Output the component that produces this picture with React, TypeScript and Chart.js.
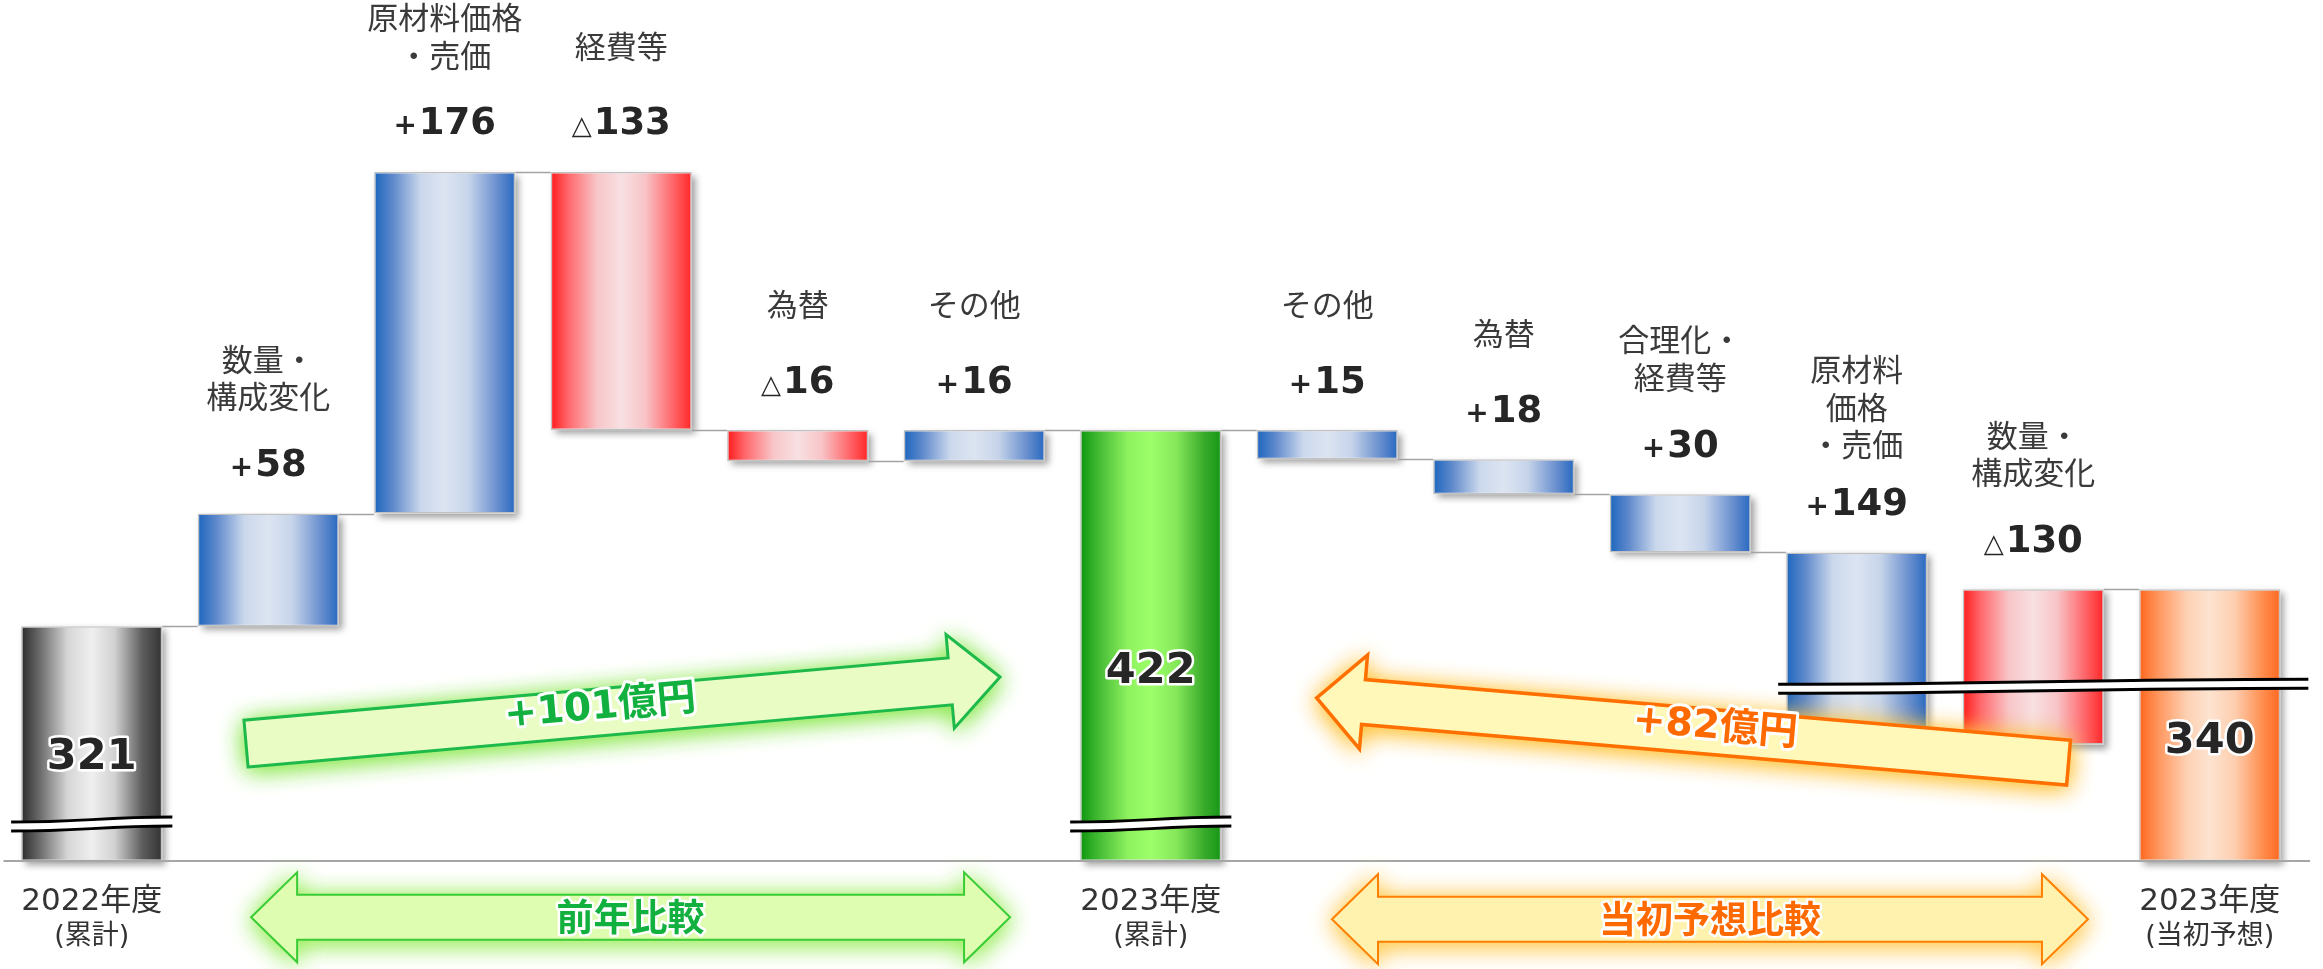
import React, { useEffect, useRef } from 'react';
import { Chart, registerables } from 'chart.js';

Chart.register(...registerables);

const CANVAS_W = 2323;
const CANVAS_H = 969;

// 営業利益の増減要因（億円）
const startTotal = 321; // 2022年度 累計
const actualTotal = 422; // 2023年度 累計
const forecastTotal = 340; // 2023年度 当初予想

const yoyItems = [['数量・', '構成変化'], ['原材料価格', '・売価'], ['経費等'], ['為替'], ['その他']];
const yoyDeltas = [58, 176, -133, -16, 16];

const forecastItems = [['その他'], ['為替'], ['合理化・', '経費等'], ['原材料', '価格', '・売価'], ['数量・', '構成変化']];
const forecastDeltas = [15, 18, 30, 149, -130];

const totalCaptions = [['2022年度', '(累計)'], ['2023年度', '(累計)'], ['2023年度', '(当初予想)']];
const comparisonCaptions = ['前年比較', '当初予想比較'];

// Broken value axis: bars start at AXIS_MIN; deltas that reach below the
// right-hand break are cut at CUT_FLOOR.
const AXIS_MIN = 200;
const AXIS_MAX = 640;
const LEFT_BREAK = 219;
const RIGHT_BREAK = 290;
const CUT_FLOOR = 260;

// Annotation anchors in chart units: [category position, value]
const yoyArrow = { tail: [0.874, 260.5], tip: [5.146, 294.8] };
const forecastArrow = { tail: [11.2, 250.7], tip: [6.94, 284] };
const yoySpan = { from: 0.903, to: 5.203, at: 171 };
const forecastSpan = { from: 7.027, to: 11.31, at: 170 };

const JP = "'Noto Sans CJK JP', sans-serif";
const NUM = "'DejaVu Sans', 'Noto Sans CJK JP', sans-serif";

type Kind = 'gray' | 'green' | 'orange' | 'up' | 'down';
interface Step {
  name: string;
  lines: string[];
  from: number;
  to: number;
  kind: Kind;
  delta?: number;
  total?: number;
  caption?: string[];
}

function buildSteps(): Step[] {
  const steps: Step[] = [];
  steps.push({ name: totalCaptions[0].join(''), lines: [], from: AXIS_MIN, to: startTotal, kind: 'gray', total: startTotal, caption: totalCaptions[0] });
  let level = startTotal;
  yoyDeltas.forEach((d, i) => {
    const next = level + d;
    steps.push({ name: yoyItems[i].join(''), lines: yoyItems[i], from: level, to: next, kind: d >= 0 ? 'up' : 'down', delta: d });
    level = next;
  });
  steps.push({ name: totalCaptions[1].join(''), lines: [], from: AXIS_MIN, to: actualTotal, kind: 'green', total: actualTotal, caption: totalCaptions[1] });
  // forecast bridge is walked back from the actual result
  level = actualTotal;
  forecastDeltas.forEach((d, i) => {
    const next = level - d;
    steps.push({ name: forecastItems[i].join(''), lines: forecastItems[i], from: level, to: next, kind: d >= 0 ? 'up' : 'down', delta: d });
    level = next;
  });
  steps.push({ name: totalCaptions[2].join(''), lines: [], from: AXIS_MIN, to: forecastTotal, kind: 'orange', total: forecastTotal, caption: totalCaptions[2] });
  return steps;
}

const steps = buildSteps();
const barData = steps.map((s) =>
  s.total !== undefined
    ? [AXIS_MIN, s.total]
    : [Math.max(Math.min(s.from, s.to), CUT_FLOOR), Math.max(s.from, s.to)]
);

const GRADIENTS: Record<Kind, [number, string][]> = {
  gray: [[0, '#2c2c2c'], [0.13, '#6a6a6a'], [0.33, '#d6d6d6'], [0.5, '#efefef'], [0.66, '#d2d2d2'], [0.86, '#5c5c5c'], [1, '#333333']],
  green: [[0, '#0f960f'], [0.14, '#47bd36'], [0.34, '#8ef25f'], [0.5, '#9cff6a'], [0.68, '#86e85a'], [0.88, '#38aa2a'], [1, '#179617']],
  orange: [[0, '#ff661c'], [0.14, '#ff9760'], [0.34, '#fdd1b3'], [0.5, '#fde3d0'], [0.68, '#fdcdae'], [0.88, '#ff8c4c'], [1, '#ff6820']],
  up: [[0, '#1c66be'], [0.13, '#5d88cb'], [0.33, '#cbd8ec'], [0.5, '#dce4f1'], [0.67, '#c6d4ea'], [0.87, '#6a90cf'], [1, '#2868bf']],
  down: [[0, '#ff1a1a'], [0.13, '#ff6a6e'], [0.33, '#f8c6c9'], [0.5, '#f8e0e2'], [0.67, '#f8c4c7'], [0.87, '#ff6468'], [1, '#ff2626']],
};

function haloText(ctx: CanvasRenderingContext2D, text: string, x: number, y: number, font: string, color: string, halo: number) {
  ctx.font = font;
  ctx.lineJoin = 'round';
  ctx.strokeStyle = '#ffffff';
  ctx.lineWidth = halo;
  ctx.strokeText(text, x, y);
  ctx.fillStyle = color;
  ctx.fillText(text, x, y);
}

function signedLabel(ctx: CanvasRenderingContext2D, d: number, cx: number, cy: number) {
  const sign = d >= 0 ? '+' : '△';
  const digits = String(Math.abs(d));
  const signFont = d >= 0 ? `bold 28px ${NUM}` : `26px ${NUM}`;
  const digitFont = `bold 37px ${NUM}`;
  ctx.font = signFont;
  const sw = ctx.measureText(sign).width;
  ctx.font = digitFont;
  const dw = ctx.measureText(digits).width;
  const gap = 2;
  const x0 = cx - (sw + gap + dw) / 2;
  const baseY = cy + 13.5;
  ctx.textAlign = 'left';
  ctx.textBaseline = 'alphabetic';
  ctx.fillStyle = '#262626';
  ctx.font = signFont;
  ctx.fillText(sign, x0, baseY);
  ctx.font = digitFont;
  ctx.fillText(digits, x0 + sw + gap, baseY);
}

function drawBreak(ctx: CanvasRenderingContext2D, x0: number, x1: number, yMid: number, amp: number) {
  const half = 4.5;
  const w = x1 - x0;
  const upper = () => {
    ctx.moveTo(x0, yMid - half + amp);
    ctx.bezierCurveTo(x0 + w * 0.45, yMid - half + amp, x0 + w * 0.55, yMid - half - amp, x1, yMid - half - amp);
  };
  const lower = () => {
    ctx.moveTo(x0, yMid + half + amp);
    ctx.bezierCurveTo(x0 + w * 0.45, yMid + half + amp, x0 + w * 0.55, yMid + half - amp, x1, yMid + half - amp);
  };
  ctx.save();
  ctx.beginPath();
  ctx.moveTo(x0, yMid - half + amp);
  ctx.bezierCurveTo(x0 + w * 0.45, yMid - half + amp, x0 + w * 0.55, yMid - half - amp, x1, yMid - half - amp);
  ctx.lineTo(x1, yMid + half - amp);
  ctx.bezierCurveTo(x0 + w * 0.55, yMid + half - amp, x0 + w * 0.45, yMid + half + amp, x0, yMid + half + amp);
  ctx.closePath();
  ctx.fillStyle = '#ffffff';
  ctx.fill();
  ctx.strokeStyle = '#000000';
  ctx.lineWidth = 3;
  ctx.beginPath();
  upper();
  ctx.stroke();
  ctx.beginPath();
  lower();
  ctx.stroke();
  ctx.restore();
}

function pathFrom(ctx: CanvasRenderingContext2D, pts: number[][]) {
  ctx.beginPath();
  pts.forEach(([x, y], i) => (i === 0 ? ctx.moveTo(x, y) : ctx.lineTo(x, y)));
  ctx.closePath();
}

function singleArrow(x0: number, y0: number, x1: number, y1: number, s: number, h: number, L: number) {
  const dx = x1 - x0;
  const dy = y1 - y0;
  const len = Math.hypot(dx, dy);
  const ux = dx / len;
  const uy = dy / len;
  const nx = -uy;
  const ny = ux;
  const bx = x1 - ux * L;
  const by = y1 - uy * L;
  return [
    [x0 + nx * s, y0 + ny * s],
    [bx + nx * s, by + ny * s],
    [bx + nx * h, by + ny * h],
    [x1, y1],
    [bx - nx * h, by - ny * h],
    [bx - nx * s, by - ny * s],
    [x0 - nx * s, y0 - ny * s],
  ];
}

function doubleArrow(xl: number, xr: number, y: number, s: number, h: number, L: number) {
  return [
    [xl, y], [xl + L, y - h], [xl + L, y - s], [xr - L, y - s], [xr - L, y - h],
    [xr, y], [xr - L, y + h], [xr - L, y + s], [xl + L, y + s], [xl + L, y + h],
  ];
}

function paintShape(ctx: CanvasRenderingContext2D, pts: number[][], fill: string, stroke: string, glow: string, lw: number) {
  ctx.save();
  ctx.shadowColor = glow;
  ctx.shadowBlur = 24;
  ctx.shadowOffsetX = 0;
  ctx.shadowOffsetY = 3;
  pathFrom(ctx, pts);
  ctx.fillStyle = fill;
  ctx.fill();
  ctx.fill();
  ctx.restore();
  ctx.save();
  pathFrom(ctx, pts);
  ctx.lineJoin = 'miter';
  ctx.strokeStyle = stroke;
  ctx.lineWidth = lw;
  ctx.stroke();
  ctx.restore();
}

const bridgePlugin = {
  id: 'bridgeDecor',
  beforeDatasetsDraw(chart: any) {
    const ctx: CanvasRenderingContext2D = chart.ctx;
    const meta = chart.getDatasetMeta(0);
    meta.data.forEach((el: any) => {
      const top = Math.min(el.y, el.base);
      const bottom = Math.max(el.y, el.base);
      ctx.save();
      ctx.shadowColor = 'rgba(0,0,0,0.38)';
      ctx.shadowBlur = 7;
      ctx.shadowOffsetX = 4;
      ctx.shadowOffsetY = 4;
      ctx.fillStyle = '#ffffff';
      ctx.fillRect(el.x - el.width / 2, top, el.width, bottom - top);
      ctx.restore();
    });
  },
  afterDatasetsDraw(chart: any) {
    const ctx: CanvasRenderingContext2D = chart.ctx;
    const xs = chart.scales.x;
    const ys = chart.scales.y;
    const area = chart.chartArea;
    const meta = chart.getDatasetMeta(0);
    const els = meta.data as any[];
    const px = (p: number[]) => [xs.getPixelForValue(p[0]), ys.getPixelForValue(p[1])];

    // connectors between neighbouring bars
    ctx.save();
    ctx.strokeStyle = '#a3a3a3';
    ctx.lineWidth = 1.5;
    for (let i = 0; i < els.length - 1; i++) {
      const y = Math.round(ys.getPixelForValue(Math.max(steps[i].to, CUT_FLOOR))) + 0.5;
      ctx.beginPath();
      ctx.moveTo(els[i].x + els[i].width / 2, y);
      ctx.lineTo(els[i + 1].x - els[i + 1].width / 2, y);
      ctx.stroke();
    }
    // baseline
    const by = ys.getPixelForValue(AXIS_MIN);
    ctx.strokeStyle = '#a6a6a6';
    ctx.lineWidth = 2;
    ctx.beginPath();
    ctx.moveTo(area.left, by);
    ctx.lineTo(area.right + 12, by);
    ctx.stroke();
    ctx.restore();

    // axis break marks
    const lb = ys.getPixelForValue(LEFT_BREAK);
    steps.forEach((s, i) => {
      if (s.kind === 'gray' || s.kind === 'green') {
        const e = els[i];
        drawBreak(ctx, e.x - e.width / 2 - 10, e.x + e.width / 2 + 10, lb, 2.5);
      }
    });
    const rb = ys.getPixelForValue(RIGHT_BREAK);
    const firstCut = steps.findIndex((s) => s.total === undefined && Math.min(s.from, s.to) < RIGHT_BREAK);
    const last = els[els.length - 1];
    drawBreak(ctx, els[firstCut].x - els[firstCut].width / 2 - 8, last.x + last.width / 2 + 28, rb, 2.5);

    // comparison arrows
    const gT = px(yoyArrow.tail);
    const gH = px(yoyArrow.tip);
    paintShape(ctx, singleArrow(gT[0], gT[1], gH[0], gH[1], 23.5, 47, 50), '#e8fcc4', '#1db94a', 'rgba(140,232,80,0.95)', 3);
    const oT = px(forecastArrow.tail);
    const oH = px(forecastArrow.tip);
    paintShape(ctx, singleArrow(oT[0], oT[1], oH[0], oH[1], 22.5, 47, 47), '#fff8b8', '#ff7000', 'rgba(255,196,60,0.95)', 3.5);

    const gy = ys.getPixelForValue(yoySpan.at);
    paintShape(ctx, doubleArrow(xs.getPixelForValue(yoySpan.from), xs.getPixelForValue(yoySpan.to), gy, 22.5, 45, 46), '#dffdb0', '#3acc35', 'rgba(160,238,100,0.95)', 2);
    const oy = ys.getPixelForValue(forecastSpan.at);
    paintShape(ctx, doubleArrow(xs.getPixelForValue(forecastSpan.from), xs.getPixelForValue(forecastSpan.to), oy, 22.5, 45, 46), '#fff1ae', '#ff8000', 'rgba(255,205,90,0.95)', 2);

    ctx.save();
    ctx.textAlign = 'center';
    ctx.textBaseline = 'middle';
    // arrow captions
    const drawAlong = (t: number[], h: number[], text: string, color: string, flip: boolean) => {
      const mx = (t[0] + h[0]) / 2 - (h[0] - t[0]) * 0.03;
      const my = (t[1] + h[1]) / 2 - (h[1] - t[1]) * 0.03 - 4;
      let ang = Math.atan2(h[1] - t[1], h[0] - t[0]);
      if (flip) ang += Math.PI;
      ctx.save();
      ctx.translate(mx, my);
      ctx.rotate(ang);
      haloText(ctx, text, 0, 0, `bold 39px ${NUM}`, color, 6);
      ctx.restore();
    };
    drawAlong(gT, gH, `+${actualTotal - startTotal}億円`, '#12b03e', false);
    drawAlong(oT, oH, `+${actualTotal - forecastTotal}億円`, '#ff6a00', true);
    haloText(ctx, comparisonCaptions[0], (xs.getPixelForValue(yoySpan.from) + xs.getPixelForValue(yoySpan.to)) / 2, gy, `bold 37px ${JP}`, '#12b03e', 5);
    haloText(ctx, comparisonCaptions[1], (xs.getPixelForValue(forecastSpan.from) + xs.getPixelForValue(forecastSpan.to)) / 2, oy, `bold 37px ${JP}`, '#ff6a00', 5);

    // bar labels
    steps.forEach((s, i) => {
      const e = els[i];
      if (s.total !== undefined) {
        const top = ys.getPixelForValue(s.total);
        ctx.textAlign = 'center';
        ctx.textBaseline = 'middle';
        haloText(ctx, String(s.total), e.x, top + (by - top) * 0.56, `bold 43px ${NUM}`, '#262626', 5);
        ctx.fillStyle = '#333333';
        ctx.font = `31px ${NUM}`;
        ctx.fillText(s.caption![0], e.x, by + 41);
        ctx.font = `27px ${NUM}`;
        ctx.fillText(s.caption![1], e.x, by + 76);
      } else {
        const top = ys.getPixelForValue(Math.max(s.from, s.to));
        const vy = top - 51;
        signedLabel(ctx, s.delta!, e.x, vy);
        const n = s.lines.length;
        const lastY = vy - (75 - 9 * (n - 1));
        ctx.textAlign = 'center';
        ctx.textBaseline = 'middle';
        ctx.fillStyle = '#3a3a3a';
        ctx.font = `31px ${JP}`;
        s.lines.forEach((ln, k) => {
          ctx.fillText(ln, e.x, lastY - (n - 1 - k) * 37.5);
        });
      }
    });
    ctx.restore();
  },
};

export default function App() {
  const canvasRef = useRef<HTMLCanvasElement>(null);

  useEffect(() => {
    document.body.style.margin = '0';
    document.body.style.overflow = 'hidden';
    const canvas = canvasRef.current;
    if (!canvas) return;
    const chart = new Chart(canvas, {
      type: 'bar',
      data: {
        labels: steps.map((s) => s.name),
        datasets: [
          {
            data: barData as any,
            backgroundColor: (c: any) => {
              const ch = c.chart;
              const area = ch.chartArea;
              const step = steps[c.dataIndex];
              if (!area || !step) return '#cccccc';
              const x = ch.scales.x.getPixelForValue(c.dataIndex);
              const half = ((area.right - area.left) / steps.length) * 0.8 / 2;
              const g = ch.ctx.createLinearGradient(x - half, 0, x + half, 0);
              GRADIENTS[step.kind].forEach(([o, col]) => g.addColorStop(o, col));
              return g;
            },
            borderColor: 'rgba(190,190,190,0.95)',
            borderWidth: 1.5,
            borderSkipped: false,
            barPercentage: 0.8,
            categoryPercentage: 1,
          },
        ],
      },
      options: {
        responsive: false,
        animation: false,
        devicePixelRatio: 1,
        layout: { padding: { left: 3.5, right: 25, top: 7, bottom: 108 } },
        scales: {
          x: { display: false },
          y: { display: false, min: AXIS_MIN, max: AXIS_MAX },
        },
        plugins: {
          legend: { display: false },
          tooltip: { enabled: false },
        },
      },
      plugins: [bridgePlugin],
    });
    return () => chart.destroy();
  }, []);

  return (
    <div style={{ width: CANVAS_W, height: CANVAS_H, background: '#ffffff' }}>
      <canvas ref={canvasRef} width={CANVAS_W} height={CANVAS_H} style={{ display: 'block' }} />
    </div>
  );
}
